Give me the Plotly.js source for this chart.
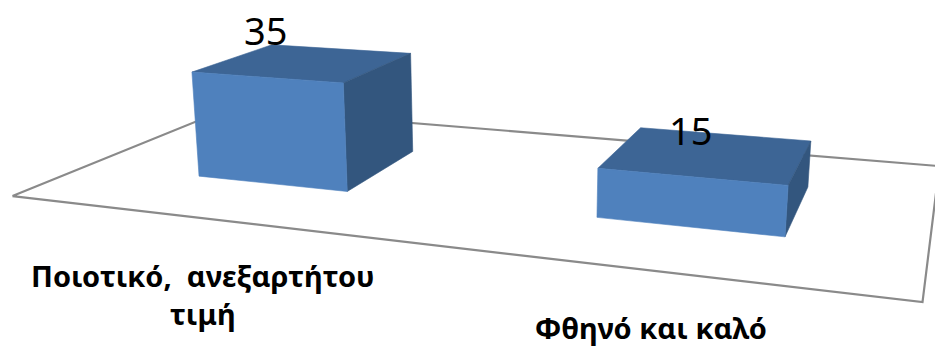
<!DOCTYPE html>
<html>
<head>
<meta charset="utf-8">
<script src="https://cdn.plot.ly/plotly-3.0.1.min.js"></script>
<style>
  html, body { margin:0; padding:0; background:#ffffff; overflow:hidden; }
  #chart { width:935px; height:347px; }
</style>
</head>
<body>
<div id="chart"></div>
<script>
// ---- data ----
const categories = ['Ποιοτικό,  ανεξαρτήτου<br>τιμή', 'Φθηνό και καλό'];
const values = [35, 15];
const valueLabels = ['35', '15'];

// ---- styling ----
const FRONT = '#4f81bd', TOP = '#3d6595', SIDE = '#33567e';
const FLOOR = '#8a8a8a';
const HALF_W = 0.2;               // bar half width (category units)
const DEPTH0 = 0.3, DEPTH1 = 0.7; // bar depth span on a floor of depth 1
const FONT = 'Noto Sans, DejaVu Sans, sans-serif';
const W = 935, H = 347;

// ---- 3-D view (perspective camera) ----
const CAM = {
  xAxis: [0.9337, 0.0885, -0.3467],
  yAxis: [0.3581, -0.2570, 0.8976],
  zAxis: [-0.00966, -0.96224, -0.27165],
  focal: 1297, px: 467, py: 173,
  floorX0: -2.357, catScale: 1.1645, floorY0: 2.690, depthScale: 1.121,
  valueScale: 0.00857, height: 1
};
function proj(xd, yd, zd) {
  const wx = CAM.floorX0 + (xd + 0.5) * CAM.catScale;
  const wy = CAM.floorY0 + yd * CAM.depthScale;
  const wz = zd * CAM.valueScale - CAM.height;
  const c = [0, 1, 2].map(k => wx * CAM.xAxis[k] + wy * CAM.yAxis[k] + wz * CAM.zAxis[k]);
  return [CAM.px + CAM.focal * c[0] / c[2], CAM.py + CAM.focal * c[1] / c[2]];
}
function poly(pts, color) {
  const p = pts.map(q => proj(q[0], q[1], q[2]));
  p.push(p[0]);
  return {
    type: 'scatter', mode: 'lines',
    x: p.map(q => q[0]), y: p.map(q => q[1]),
    fill: 'toself', fillcolor: color,
    line: { color: color, width: 0.6 },
    hoverinfo: 'skip', showlegend: false
  };
}

const n = categories.length;
const traces = [];

// floor outline
(function () {
  const pts = [[-0.5, 0, 0], [n - 0.5, 0, 0], [n - 0.5, 1, 0], [-0.5, 1, 0], [-0.5, 0, 0]].map(q => proj(q[0], q[1], q[2]));
  traces.push({
    type: 'scatter', mode: 'lines',
    x: pts.map(q => q[0]), y: pts.map(q => q[1]),
    line: { color: FLOOR, width: 2.2 },
    hoverinfo: 'skip', showlegend: false
  });
})();

// bars
values.forEach((v, i) => {
  const xc = i + 0.02;
  const x0 = xc - HALF_W, x1 = xc + HALF_W, y0 = DEPTH0, y1 = DEPTH1;
  traces.push(poly([[x0, y0, v], [x1, y0, v], [x1, y1, v], [x0, y1, v]], TOP));
  traces.push(poly([[x1, y0, 0], [x1, y1, 0], [x1, y1, v], [x1, y0, v]], SIDE));
  traces.push(poly([[x0, y0, 0], [x1, y0, 0], [x1, y0, v], [x0, y0, v]], FRONT));
});

const annotations = [];
values.forEach((v, i) => {
  const p = proj(i + 0.02, DEPTH0, v);
  annotations.push({
    xref: 'x', yref: 'y', x: p[0], y: p[1], text: valueLabels[i], showarrow: false,
    yanchor: 'middle', yshift: 47, font: { family: FONT, size: 38, color: '#000000' }
  });
});
categories.forEach((c, i) => {
  const p = proj(i, 0, 0);
  annotations.push({
    xref: 'x', yref: 'y', x: p[0] + 4, y: p[1], text: c, showarrow: false,
    yanchor: 'top', yshift: -37, borderpad: 0,
    font: { family: FONT, size: 29, color: '#000000', weight: 'bold' }
  });
});

const layout = {
  width: W, height: H,
  margin: { l: 0, r: 0, t: 0, b: 0 },
  paper_bgcolor: '#ffffff', plot_bgcolor: '#ffffff',
  showlegend: false, hovermode: false,
  xaxis: { range: [0, W], visible: false, fixedrange: true },
  yaxis: { range: [H, 0], visible: false, fixedrange: true },
  annotations: annotations
};

Plotly.newPlot('chart', traces, layout, { displayModeBar: false, staticPlot: true });
</script>
</body>
</html>
